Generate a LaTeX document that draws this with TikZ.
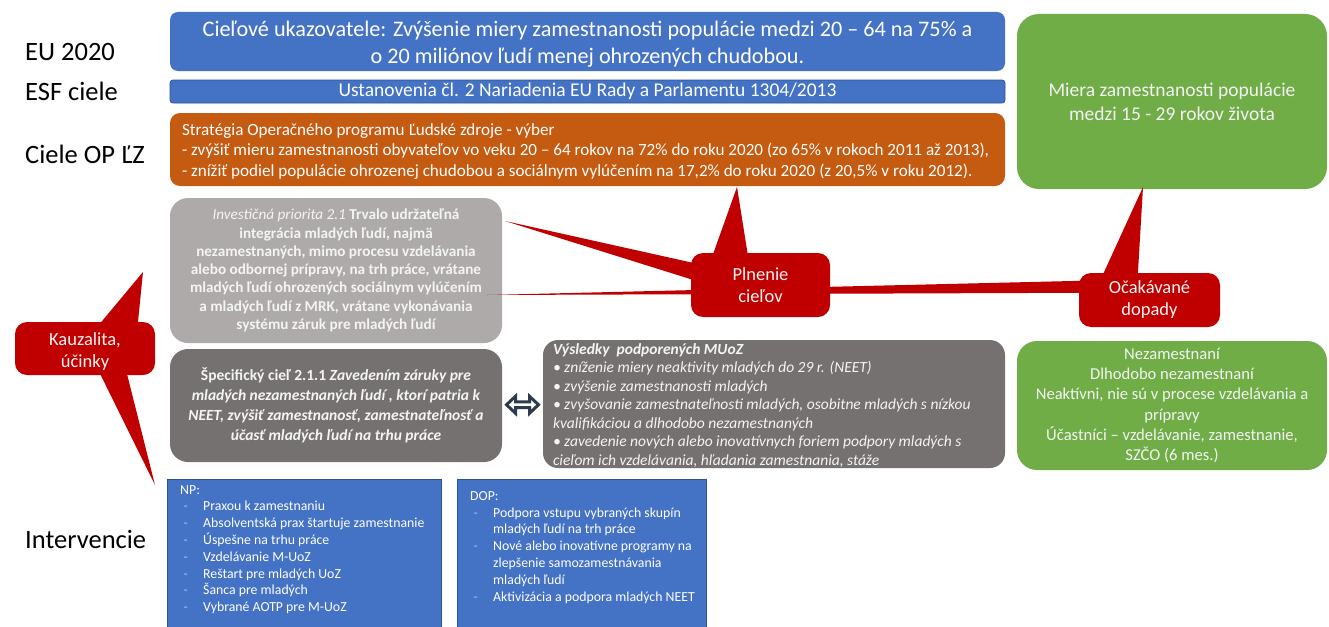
\documentclass[tikz,border=0pt]{standalone}
\usepackage{fontspec}
\setmainfont{Carlito}
\usetikzlibrary{calc}
\pgfdeclarelayer{front}
\pgfsetlayers{main,front}
\definecolor{oblue}{HTML}{4472C4}
\definecolor{oblueb}{HTML}{2F528F}
\definecolor{oorange}{HTML}{C55A11}
\definecolor{ogreen}{HTML}{70AD47}
\definecolor{lgray}{HTML}{AEAAAA}
\definecolor{dgray}{HTML}{767171}
\definecolor{ored}{HTML}{C00000}
\definecolor{navy}{HTML}{2E3A4E}
\definecolor{offw}{HTML}{F4F4F4}
\definecolor{dashc}{HTML}{A9BCE6}
\newcommand\fsz[2]{\fontsize{#1}{#2}\selectfont}
\newcommand\itm[1]{\hspace*{3.5pt}\makebox[19.5pt][l]{\textcolor{dashc}{-}}#1}
\newcommand\cnt[1]{\hspace*{23pt}#1}
\tikzset{
  lbl/.style={anchor=west, inner sep=0pt, text height=17pt, text depth=0pt, font=\fsz{26.5}{31}},
  panel/.style={inner sep=0pt, text=white, align=center},
  plain/.style={inner sep=0pt, text=white, align=left},
  callout/.style={fill=ored, rounded corners=12pt, inner sep=0pt, text=offw, align=center, font=\fsz{18.5}{22}},
  tail/.style={fill=ored},
}
\begin{document}
\begin{tikzpicture}[x=1pt,y=-1pt]
\useasboundingbox (0,0) rectangle (1329,626);

% left labels
\node[lbl] (l1) at (25,52) {EU 2020};
\node[lbl] (l2) at (25,92) {ESF ciele};
\node[lbl] (l3) at (25,155) {Ciele OP ĽZ};
\node[lbl] (l4) at (25,540) {Intervencie};

% top boxes
\node[fill=oblue, rounded corners=8pt, minimum width=835pt, minimum height=59pt, inner sep=0pt] (eu) at (587.5,41.5) {};
\node[panel, font=\fsz{22.2}{27}] (eut) at ([shift={(0,3)}]eu.center)
 {Cieľové ukazovatele: Zvýšenie miery zamestnanosti populácie medzi 20 – 64 na 75\% a\\ o 20 miliónov ľudí menej ohrozených chudobou.};
\node[panel, fill=oblue, draw=oblueb, line width=0.8pt, rounded corners=3pt, minimum width=835pt, minimum height=23pt, font=\fsz{19.5}{21}] (esf) at (587.5,91.5)
 {Ustanovenia čl. 2 Nariadenia EU Rady a Parlamentu 1304/2013};
\node[fill=oorange, rounded corners=10pt, minimum width=835pt, minimum height=73pt, inner sep=0pt] (op) at (587.5,149.5) {};
\node[plain, anchor=west, font=\fsz{17.1}{20.6}] (opt) at ([shift={(12,2)}]op.west)
 {Stratégia Operačného programu Ľudské zdroje - výber\\
  - zvýšiť mieru zamestnanosti obyvateľov vo veku 20 – 64 rokov na 72\% do roku 2020 (zo 65\% v rokoch 2011 až 2013),\\
  - znížiť podiel populácie ohrozenej chudobou a sociálnym vylúčením na 17,2\% do roku 2020 (z 20,5\% v roku 2012).};
\node[panel, fill=ogreen, rounded corners=22pt, minimum width=310pt, minimum height=175pt, text=offw, font=\fsz{19.5}{24}] (gt) at (1172,101.5)
 {Miera zamestnanosti populácie\\medzi 15 - 29 rokov života};

% middle boxes
\node[panel, fill=lgray, rounded corners=18pt, minimum width=332pt, minimum height=145pt, text=offw, font=\fsz{15.2}{18.3}\bfseries] (ip) at (336,270.5)
 {{\mdseries\itshape Investičná priorita 2.1} Trvalo udržateľná\\
  integrácia mladých ľudí, najmä\\
  nezamestnaných, mimo procesu vzdelávania\\
  alebo odbornej prípravy, na trh práce, vrátane\\
  mladých ľudí ohrozených sociálnym vylúčením\\
  a mladých ľudí z MRK, vrátane vykonávania\\
  systému záruk pre mladých ľudí};
\node[panel, fill=dgray, rounded corners=18pt, minimum width=332pt, minimum height=113pt, text=offw, font=\fsz{15.5}{20}\bfseries] (sc) at (336,405.5)
 {Špecifický cieľ 2.1.1 \textit{Zavedením záruky pre}\\
  \textit{mladých nezamestnaných ľudí , ktorí patria k}\\
  \textit{NEET, zvýšiť zamestnanosť, zamestnateľnosť a}\\
  \textit{účasť mladých ľudí na trhu práce}};
\node[fill=dgray, rounded corners=15pt, minimum width=462pt, minimum height=128pt, inner sep=0pt] (vy) at (774,404) {};
\node[plain, anchor=west, text=offw, font=\fsz{15.5}{18.5}\itshape] (vyt) at ([shift={(10,1.5)}]vy.west)
 {\textbf{Výsledky\ \ podporených MUoZ}\\
  • zníženie miery neaktivity mladých do 29 r. (NEET)\\
  • zvýšenie zamestnanosti mladých\\
  • zvyšovanie zamestnateľnosti mladých, osobitne mladých s nízkou\\
  kvalifikáciou a dlhodobo nezamestnaných\\
  • zavedenie nových alebo inovatívnych foriem podpory mladých s\\
  cieľom ich vzdelávania, hľadania zamestnania, stáže};
\node[panel, fill=ogreen, rounded corners=20pt, minimum width=310pt, minimum height=129pt, text=offw, font=\fsz{16.6}{20.2}] (gb) at (1172,405.5)
 {Nezamestnaní\\Dlhodobo nezamestnaní\\Neaktívni, nie sú v procese vzdelávania a\\prípravy\\Účastníci – vzdelávanie, zamestnanie,\\SZČO (6 mes.)};

% double arrow between sc and vy
\coordinate (arm) at ($(sc.east)!0.5!(vy.west)$);
\draw[navy, fill=white, line width=3pt, line join=miter, shift={(arm)}]
  (-16,0) -- (-7,-8.5) -- (-7,-2.8) -- (7,-2.8) -- (7,-8.5) -- (16,0) -- (7,8.5) -- (7,2.8) -- (-7,2.8) -- (-7,8.5) -- cycle;

% intervention boxes
\node[fill=oblue, draw=oblueb, line width=0.8pt, minimum width=274pt, minimum height=150pt, anchor=north west, inner sep=0pt] (np) at (167,479) {};
\node[plain, anchor=north west, font=\fsz{13.8}{16.8}] (npt) at ([shift={(13,6)}]np.north west)
 {NP:\\
  \itm{Praxou k zamestnaniu}\\
  \itm{Absolventská prax štartuje zamestnanie}\\
  \itm{Úspešne na trhu práce}\\
  \itm{Vzdelávanie M-UoZ}\\
  \itm{Reštart pre mladých UoZ}\\
  \itm{Šanca pre mladých}\\
  \itm{Vybrané AOTP pre M-UoZ}};
\node[fill=oblue, draw=oblueb, line width=0.8pt, minimum width=249pt, minimum height=150pt, anchor=north west, inner sep=0pt] (dp) at (457,479) {};
\node[plain, anchor=north west, font=\fsz{13.8}{16.9}] (dpt) at ([shift={(13,12)}]dp.north west)
 {DOP:\\
  \itm{Podpora vstupu vybraných skupín}\\
  \cnt{mladých ľudí na trh práce}\\
  \itm{Nové alebo inovatívne programy na}\\
  \cnt{zlepšenie samozamestnávania}\\
  \cnt{mladých ľudí}\\
  \itm{Aktivizácia a podpora mladých NEET}};

% callouts (boxes on front layer)
\begin{pgfonlayer}{front}
\node[callout, minimum width=139pt, minimum height=64pt] (pl) at (760.5,285) {Plnenie\\cieľov};
\node[callout, minimum width=141pt, minimum height=54pt] (oc) at (1149.5,300) {Očakávané\\dopady};
\node[callout, minimum width=140pt, minimum height=53pt] (ka) at (85,348.5) {};
\node[panel, text=offw, font=\fsz{18.5}{22}] (kat) at ([shift={(0,3.5)}]ka.center) {Kauzalita,\\účinky};
\end{pgfonlayer}

\coordinate (t1) at (737,187);
\coordinate (t2) at (505,221);
\coordinate (t3) at (1143,187);
\coordinate (t4) at (487,295);
\coordinate (t5) at (143,272);
\coordinate (t6) at (155,485);

\fill[tail] ([shift={(22,2)}]pl.north west) -- (t1) -- ([shift={(57,2)}]pl.north west) -- cycle;
\fill[tail] ([shift={(2,10)}]pl.north west) -- (t2) -- ([shift={(2,27)}]pl.north west) -- cycle;
\fill[tail] ([shift={(24,2)}]oc.north west) -- (t3) -- ([shift={(59,2)}]oc.north west) -- cycle;
\fill[tail] ([shift={(2,8)}]oc.north west) -- (t4) -- ([shift={(2,20)}]oc.north west) -- cycle;
\fill[tail] ([shift={(85,2)}]ka.north west) -- (t5) -- ([shift={(123,2)}]ka.north west) -- cycle;
\fill[tail] ([shift={(85,-2)}]ka.south west) -- (t6) -- ([shift={(112,-2)}]ka.south west) -- cycle;
\end{tikzpicture}
\end{document}
